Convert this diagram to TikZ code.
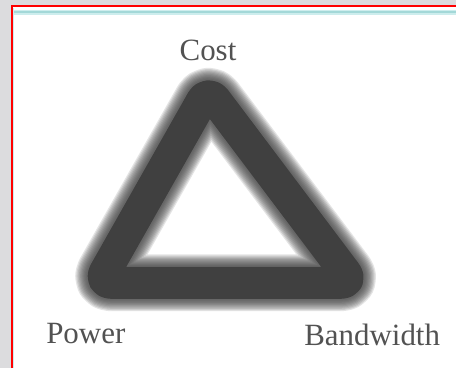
\documentclass[tikz,border=0pt]{standalone}
\usepackage{fontspec}
\setmainfont{Liberation Serif}
\usepackage{tikz}
\usepackage{xcolor}
\definecolor{panelgray}{HTML}{DCDCDE}
\definecolor{framered}{HTML}{FF0000}
\definecolor{rulecyan}{HTML}{A3D8D8}
\definecolor{rulecyanlt}{HTML}{CDEDED}
\definecolor{bandgray}{HTML}{404040}
\definecolor{tagtextgray}{HTML}{525252}

\begin{document}
\begin{tikzpicture}[font=\fontsize{22}{26}\selectfont,line cap=round,
  tagtext/.style={text=tagtextgray,inner sep=0pt},
  band/.style={draw=bandgray,line join=round,rounded corners=0.32cm}]
\useasboundingbox (0,0) rectangle (11.4,9.2);
% panel and frame
\fill[panelgray] (0,0) rectangle (11.4,9.2);
\fill[white] (0.2875,0) rectangle (11.4,9.0375);
\draw[rulecyanlt,line width=0.11cm,line cap=butt] (0.33,8.8875) -- (11.4,8.8875);
\draw[rulecyan,line width=0.05cm,line cap=butt] (0.33,8.8875) -- (11.4,8.8875);
\draw[rulecyanlt,line width=0.025cm,line cap=butt] (0.33,0) -- (0.33,9.0);
\draw[framered,line width=0.05cm,line cap=butt] (0.2875,0) -- (0.2875,9.0375) -- (11.4,9.0375);
% soft triangle
\coordinate (apex) at (5.2,6.95);
\coordinate (left) at (2.47,2.13);
\coordinate (right) at (8.83,2.13);
\coordinate (base) at (5.6,2.13);
\foreach \w in {1.42,1.36,...,0.85}
  \draw[band,line width=\w cm,opacity=0.14] (base) -- (right) -- (apex) -- (left) -- cycle;
\draw[band,line width=0.8cm] (base) -- (right) -- (apex) -- (left) -- cycle;
% corner labels
\node[tagtext,anchor=base] (cost) at (5.2,7.7) {Cost};
\node[tagtext,anchor=base west] (power) at (1.15,0.62) {Power};
\node[tagtext,anchor=base west] (bandwidth) at (7.6,0.575) {Bandwidth};
\end{tikzpicture}
\end{document}
